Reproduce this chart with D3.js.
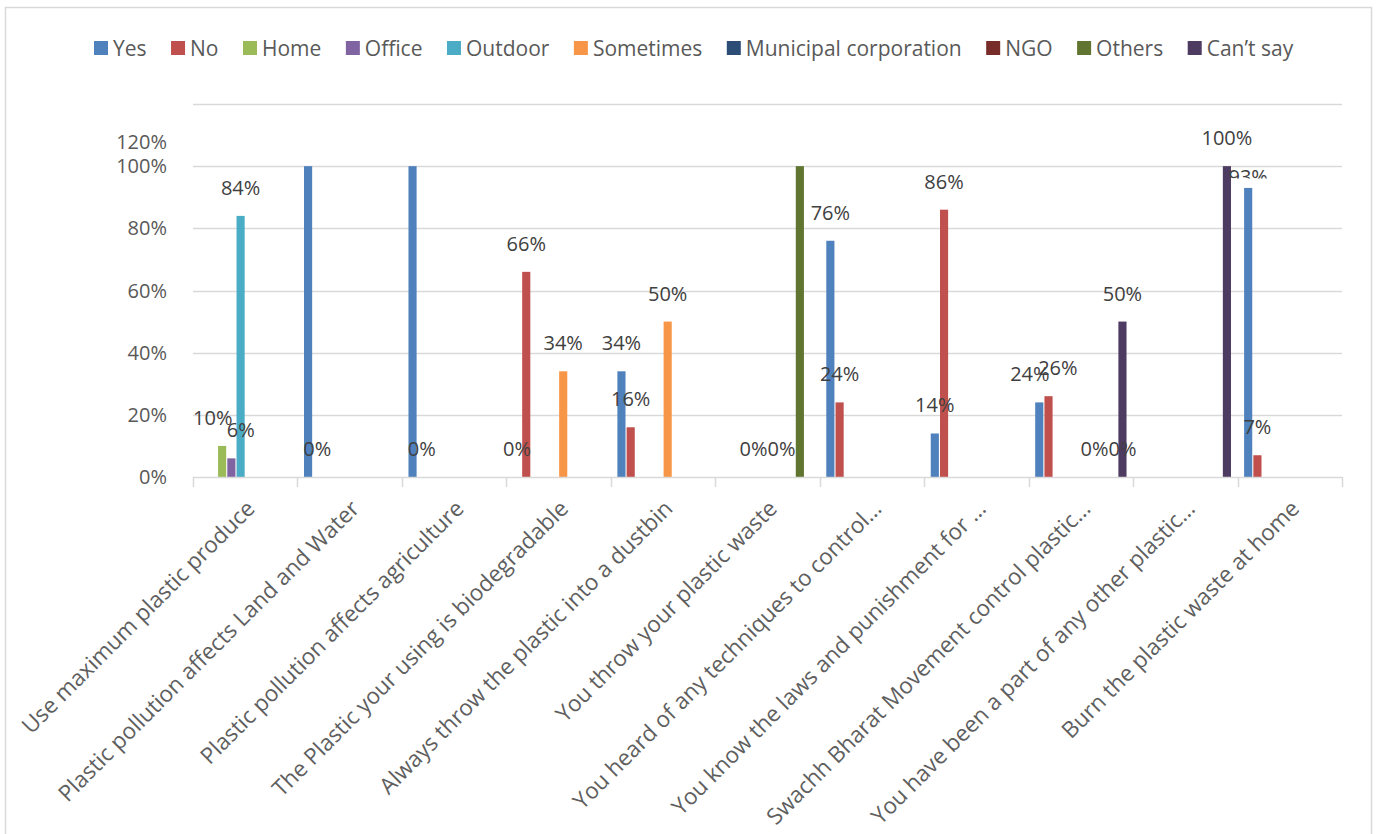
<!DOCTYPE html>
<html>
<head>
<meta charset="utf-8">
<script src="https://cdn.jsdelivr.net/npm/d3@7"></script>
<style>
  html, body { margin: 0; padding: 0; background: #ffffff; }
  svg { display: block; }
  text { font-family: "Open Sans", "Noto Sans", sans-serif; }
</style>
</head>
<body>
<svg id="chart" width="1377" height="834"></svg>
<script>
// ---------- data ----------
const categories = [
  "Use maximum plastic produce",
  "Plastic pollution affects Land and Water",
  "Plastic pollution affects agriculture",
  "The Plastic your using is biodegradable",
  "Always throw the plastic into a dustbin",
  "You throw your plastic waste",
  "You heard of any techniques to control…",
  "You know the laws and punishment for …",
  "Swachh Bharat Movement control plastic…",
  "You have been a part of any other plastic…",
  "Burn the plastic waste at home"
];
const seriesNames = ["Yes", "No", "Home", "Office", "Outdoor", "Sometimes",
  "Municipal corporation", "NGO", "Others", "Can’t say"];

const yesValues       = [null, 1.00, 1.00, 0.00, 0.34, null, 0.76, 0.14, 0.24, null, 0.93];
const noValues        = [null, 0.00, 0.00, 0.66, 0.16, null, 0.24, 0.86, 0.26, null, 0.07];
const homeValues      = [0.10, null, null, null, null, null, null, null, null, null, null];
const officeValues    = [0.06, null, null, null, null, null, null, null, null, null, null];
const outdoorValues   = [0.84, null, null, null, null, 0.00, null, null, null, null, null];
const sometimesValues = [null, null, null, 0.34, 0.50, 0.00, null, null, null, null, null];
const municipalValues = [null, null, null, null, null, null, null, null, null, null, null];
const ngoValues       = [null, null, null, null, null, null, null, null, 0.00, null, null];
const othersValues    = [null, null, null, null, null, 1.00, null, null, 0.00, null, null];
const cantSayValues   = [null, null, null, null, null, null, null, null, 0.50, 1.00, null];

const yTickValues = [0, 0.2, 0.4, 0.6, 0.8, 1.0, 1.2];
const yTickLabels = ["0%", "20%", "40%", "60%", "80%", "100%", "120%"];

// labels not shown in the original (category index | series index)
const hiddenLabels = ["1|0", "2|0", "5|8"];
const partialLabels = ["10|0"];

// ---------- styles ----------
const seriesColors = ["#4f81bd", "#c0504d", "#9bbb59", "#8064a2", "#4bacc6",
  "#f79646", "#2c4d75", "#772c2a", "#5f7530", "#4d3b62"];

const allValues = [yesValues, noValues, homeValues, officeValues, outdoorValues,
  sometimesValues, municipalValues, ngoValues, othersValues, cantSayValues];

const svg = d3.select("#chart");
const W = 1377, H = 834;
const plot = { left: 193, right: 1342, top: 104, bottom: 477 };

// frame
svg.append("rect").attr("x", 5.5).attr("y", 7.5).attr("width", 1366).attr("height", H + 20)
  .attr("fill", "#fff").attr("stroke", "#d9d9d9").attr("stroke-width", 1.5);

const x = d3.scaleBand().domain(d3.range(categories.length))
  .range([plot.left, plot.right]).paddingInner(0).paddingOuter(0);
const xs = d3.scaleBand().domain(d3.range(seriesNames.length))
  .range([0, x.bandwidth()]).paddingInner(0.12).paddingOuter(0.71);
const y = d3.scaleLinear().domain([0, 1.2]).range([plot.bottom, plot.top]);

// gridlines
svg.append("g").selectAll("line").data(yTickValues.filter(v => v > 0)).join("line")
  .attr("x1", plot.left).attr("x2", plot.right)
  .attr("y1", d => Math.round(y(d)) + 0.5).attr("y2", d => Math.round(y(d)) + 0.5)
  .attr("stroke", "#d9d9d9").attr("stroke-width", 1.5);

// y labels
svg.append("g").selectAll("text").data(yTickValues).join("text")
  .attr("x", 167)
  .attr("y", (d, i) => (d > 1.0 ? y(1.0) - 24 : y(d)) + 7)
  .attr("text-anchor", "end")
  .attr("font-size", 20).attr("fill", "#595959")
  .text((d, i) => yTickLabels[i]);

// bars
const barData = [];
allValues.forEach((arr, s) => arr.forEach((v, c) => {
  if (v !== null) barData.push({ c, s, v });
}));

svg.append("g").selectAll("rect").data(barData.filter(d => d.v > 0)).join("rect")
  .attr("x", d => x(d.c) + xs(d.s))
  .attr("width", xs.bandwidth())
  .attr("y", d => y(d.v))
  .attr("height", d => y(0) - y(d.v))
  .attr("fill", d => seriesColors[d.s]);

// x axis line & ticks
svg.append("line").attr("x1", plot.left).attr("x2", plot.right)
  .attr("y1", plot.bottom + 0.5).attr("y2", plot.bottom + 0.5)
  .attr("stroke", "#d9d9d9").attr("stroke-width", 1.5);
const bounds = d3.range(categories.length + 1).map(i => plot.left + i * x.step());
svg.append("g").selectAll("line").data(bounds).join("line")
  .attr("x1", d => Math.round(d) + 0.5).attr("x2", d => Math.round(d) + 0.5)
  .attr("y1", plot.bottom).attr("y2", plot.bottom + 10)
  .attr("stroke", "#d9d9d9").attr("stroke-width", 1.5);

// x labels
svg.append("g").selectAll("text").data(categories).join("text")
  .attr("transform", (d, i) => `translate(${x(i) + x.bandwidth() / 2 + 11},${510}) rotate(-45)`)
  .attr("text-anchor", "end")
  .attr("font-size", 22.5).attr("fill", "#5f5f5f")
  .text(d => d);

// data labels
const fmt = v => Math.round(v * 100) + "%";
const labelG = svg.append("g");
const defs = svg.append("defs");
const labels = [];
barData.forEach(d => {
  const key = d.c + "|" + d.s;
  if (hiddenLabels.includes(key)) return;
  const cx = x(d.c) + xs(d.s) + xs.bandwidth() / 2;
  const partial = partialLabels.includes(key);
  const by = partial ? y(d.v) - 4 : y(d.v) - 21;
  const t = labelG.append("text")
    .attr("x", cx).attr("y", by)
    .attr("text-anchor", "middle")
    .attr("font-size", 20).attr("fill", "#404040")
    .text(fmt(d.v));
  if (partial) {
    const id = "clip" + d.c + "_" + d.s;
    defs.append("clipPath").attr("id", id).append("rect")
      .attr("x", cx - 40).attr("width", 80)
      .attr("y", by - 30).attr("height", 24.5);
    t.attr("clip-path", `url(#${id})`);
  }
  labels.push({ c: d.c, s: d.s, x: cx, y: by, w: t.node().getComputedTextLength(), node: t });
});

// simple horizontal separation of overlapping labels within a category
const minSep = 28;
d3.groups(labels, l => l.c).forEach(([c, arr]) => {
  arr.sort((a, b) => a.x - b.x);
  for (let i = 0; i < arr.length - 1; i++) {
    const a = arr[i], b = arr[i + 1];
    const dx = b.x - a.x;
    if (Math.abs(a.y - b.y) < 20 && dx < minSep && dx < (a.w + b.w) / 2) {
      const shift = (minSep - dx) / 2;
      a.x -= shift; b.x += shift;
    }
  }
  arr.forEach(l => l.node.attr("x", l.x));
});

// legend
const legend = svg.append("g");
let lx = 94;
seriesNames.forEach((name, i) => {
  legend.append("rect").attr("x", lx).attr("y", 41).attr("width", 14).attr("height", 14)
    .attr("fill", seriesColors[i]);
  const t = legend.append("text").attr("x", lx + 19).attr("y", 56)
    .attr("font-size", 21).attr("fill", "#595959").text(name);
  lx += 19 + t.node().getComputedTextLength() + 24.5;
});
</script>
</body>
</html>
